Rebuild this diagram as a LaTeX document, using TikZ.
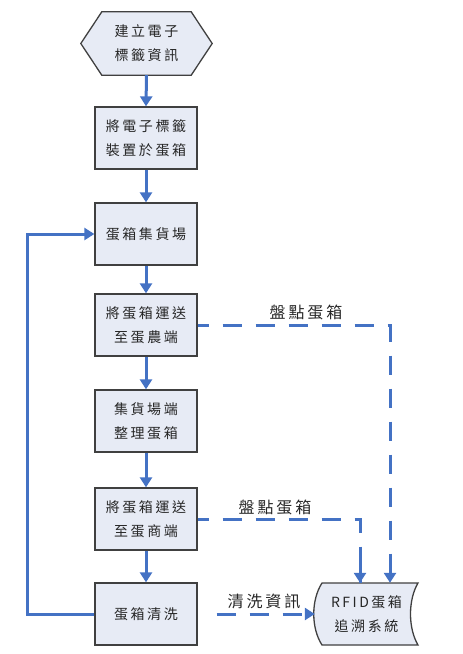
\documentclass[tikz,border=0pt]{standalone}
\usepackage{fontspec}
\setmainfont{Noto Sans CJK TC}
\newfontfamily\cjk[LetterSpace=18]{Noto Sans CJK TC}
\usetikzlibrary{arrows.meta,calc}
\definecolor{arrowblue}{RGB}{68,114,196}
\definecolor{boxfill}{RGB}{231,235,245}
\definecolor{boxline}{RGB}{64,64,64}
\begin{document}
\begin{tikzpicture}[x=1pt,y=-1pt,
  stepbox/.style={draw=boxline,line width=1.3pt,fill=boxfill,minimum width=102pt,minimum height=62pt,inner sep=0pt,align=center,font=\cjk\fontsize{14}{24}\selectfont,text=black!85},
  shapetext/.style={inner sep=0pt,align=center,font=\cjk\fontsize{14}{24}\selectfont,text=black!85},
  flow/.style={draw=arrowblue,line width=3pt,-{Triangle[width=12pt,length=10pt]}},
  dflow/.style={draw=arrowblue,line width=3pt,dash pattern=on 19pt off 14pt},
  lbl/.style={inner sep=0pt,font=\cjk\fontsize{16}{18}\selectfont,text=black!85}]
\useasboundingbox (0,0) rectangle (463,654);
% hexagon start
\node[shapetext,minimum width=131pt,minimum height=63pt] (n1) at (146.5,43.5) {建立電子\\標籤資訊};
\draw[boxline,line width=1.3pt,fill=boxfill]
  (n1.west) -- ($(n1.north west)+(21,0)$) -- ($(n1.north east)+(-21,0)$) -- (n1.east)
  -- ($(n1.south east)+(-21,0)$) -- ($(n1.south west)+(21,0)$) -- cycle;
\node[shapetext] at (n1.center) {建立電子\\標籤資訊};
\node[stepbox] (n2) at (146,138) {將電子標籤\\裝置於蛋箱};
\node[stepbox] (n3) at (146,234) {蛋箱集貨場};
\node[stepbox] (n4) at (146,325) {將蛋箱運送\\至蛋農端};
\node[stepbox] (n5) at (146,421) {集貨場端\\整理蛋箱};
\node[stepbox] (n6) at (146,519) {將蛋箱運送\\至蛋商端};
\node[stepbox] (n7) at (146,614) {蛋箱清洗};
% RFID stored data shape
\node[shapetext,minimum width=103pt,minimum height=62pt] (rfid) at (366.5,614) {};
\draw[boxline,line width=1.3pt,fill=boxfill]
  (322,583) -- (418,583) .. controls (408,600) and (408,628) .. (418,645)
  -- (322,645) .. controls (311,628) and (311,600) .. (322,583) -- cycle;
\node[shapetext] at (rfid.center) {RFID蛋箱\\追溯系統};
% main flow
\draw[flow] (n1.south) -- (n2.north);
\draw[flow] (n2.south) -- (n3.north);
\draw[flow] (n3.south) -- (n4.north);
\draw[flow] (n4.south) -- (n5.north);
\draw[flow] (n5.south) -- (n6.north);
\draw[flow] (n6.south) -- (n7.north);
\coordinate (lb) at ($(n7.west)+(-67,0)$);
\coordinate (lt) at (lb |- n3.west);
\draw[flow] (n7.west) -- (lb) -- (lt) -- (n3.west);
% dashed
\coordinate (r1) at ($(rfid.north)+(23.5,0)$);
\coordinate (r2) at ($(rfid.north)+(-6.5,0)$);
\draw[dflow,dash phase=8pt] (n4.east) -- (r1 |- n4.east) -- (r1);
\draw[flow] ($(r1)+(0,-22)$) -- (r1);
\draw[dflow,dash phase=8pt] (n6.east) -- (r2 |- n6.east) -- (r2);
\draw[flow] ($(r2)+(0,-20)$) -- (r2);
\draw[flow,dash pattern=on 19pt off 14pt,dash phase=24pt] ([xshift=10pt]n7.east) -- (rfid.west);
\node[lbl] (t1) at (306,312) {盤點蛋箱};
\node[lbl] (t2) at (275,507) {盤點蛋箱};
\node[lbl] (t3) at (264,601) {清洗資訊};
\end{tikzpicture}
\end{document}
